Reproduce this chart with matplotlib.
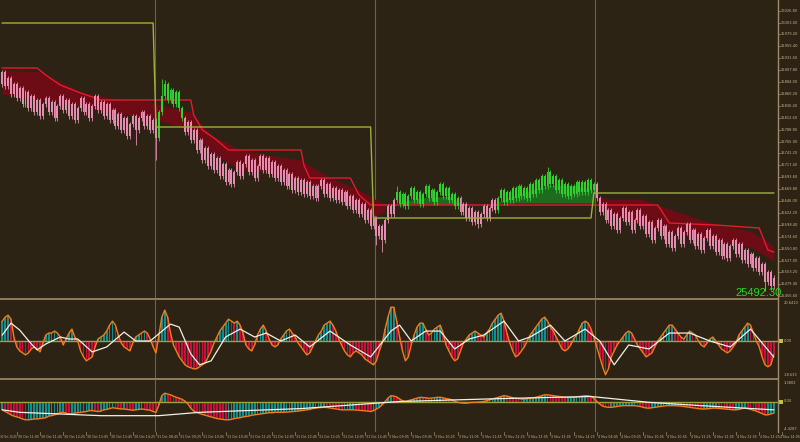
import numpy as np
import matplotlib
matplotlib.use("Agg")
import matplotlib.pyplot as plt
from matplotlib.lines import Line2D
from matplotlib.patches import Rectangle

# ---------------- data ----------------
session_days = ["30 Oct", "31 Oct", "3 Nov", "4 Nov"]
session_bars = [53, 76, 76, 62]
session_first_time = ["10:40", "08:45", "08:45", "08:45"]
bar_minutes = 5
last_price_text = "25492.30"

first_open = 25880.0
closes = [
    # 30 Oct
    25904, 25876, 25892, 25860, 25880, 25852, 25872, 25840, 25864, 25832,
    25856, 25824, 25848, 25816, 25840, 25852, 25824, 25844, 25812, 25836,
    25856, 25828, 25848, 25816, 25840, 25808, 25832, 25852, 25824, 25840,
    25812, 25836, 25856, 25828, 25844, 25816, 25840, 25808, 25828, 25796,
    25820, 25788, 25812, 25776, 25800, 25816, 25788, 25812, 25824, 25796,
    25816, 25788, 25808,
    # 31 Oct
    25772, 25824, 25856, 25880, 25848, 25868, 25840, 25864, 25832, 25812,
    25784, 25804, 25768, 25788, 25748, 25768, 25728, 25752, 25716, 25740,
    25708, 25732, 25696, 25720, 25684, 25708, 25680, 25704, 25724, 25696,
    25720, 25736, 25704, 25728, 25692, 25716, 25736, 25708, 25732, 25700,
    25724, 25692, 25716, 25684, 25708, 25676, 25700, 25668, 25692, 25664,
    25688, 25660, 25684, 25656, 25676, 25652, 25676, 25688, 25660, 25680,
    25652, 25672, 25648, 25668, 25644, 25664, 25636, 25656, 25628, 25648,
    25620, 25640, 25608, 25628, 25596, 25612,
    # 3 Nov
    25576, 25596, 25568, 25608, 25636, 25620, 25648, 25664, 25640, 25660,
    25636, 25656, 25672, 25648, 25664, 25640, 25660, 25676, 25652, 25668,
    25644, 25664, 25680, 25656, 25672, 25648, 25660, 25636, 25652, 25624,
    25640, 25612, 25632, 25604, 25624, 25600, 25620, 25636, 25612, 25632,
    25648, 25628, 25652, 25668, 25644, 25664, 25648, 25672, 25652, 25676,
    25656, 25672, 25652, 25680, 25660, 25688, 25668, 25696, 25676, 25704,
    25680, 25696, 25668, 25688, 25660, 25680, 25656, 25676, 25660, 25684,
    25664, 25684, 25664, 25688, 25668, 25680,
    # 4 Nov
    25652, 25624, 25640, 25608, 25628, 25596, 25620, 25588, 25612, 25632,
    25604, 25624, 25588, 25608, 25628, 25596, 25616, 25580, 25604, 25568,
    25592, 25608, 25576, 25596, 25560, 25584, 25552, 25576, 25592, 25560,
    25584, 25600, 25568, 25588, 25556, 25580, 25548, 25572, 25588, 25556,
    25576, 25544, 25568, 25536, 25560, 25532, 25556, 25568, 25540, 25560,
    25528, 25548, 25520, 25540, 25512, 25532, 25504, 25520, 25484, 25504,
    25476, 25492.3,
]
spike_low_bars = [46, 53, 129, 131, 164, 263, 265]
spike_low_vals = [25758, 25728, 25558, 25544, 25592, 25466, 25468]
spike_high_bars = [55, 56, 136, 188]
spike_high_vals = [25890, 25888, 25676, 25714]
green_ranges = [(54, 62), (136, 157), (171, 204)]

# red stop line
red_bars = [0, 12, 15, 20, 27, 34, 65, 66, 69, 73, 78, 103, 104, 106, 120, 123, 127,
            226, 230, 246, 261, 264, 266]
red_vals = [25912, 25912, 25898, 25878, 25862, 25848, 25848, 25818, 25788, 25772, 25748,
            25748, 25718, 25692, 25692, 25658, 25638, 25638, 25602, 25598, 25592, 25548, 25544]

# red cloud segments
cloud1_bars = [0, 13, 27, 41, 51, 58, 65, 72, 82, 92, 103, 113, 123, 129, 132]
cloud1_top = [25908, 25904, 25864, 25848, 25844, 25832, 25824, 25778, 25748, 25738,
              25728, 25692, 25668, 25648, 25638]
cloud1_bot = [25860, 25848, 25836, 25820, 25812, 25800, 25788, 25744, 25708, 25704,
              25688, 25664, 25634, 25616, 25628]
cloud2_bars = [205, 209, 220, 230, 241, 248, 258, 266]
cloud2_top = [25656, 25650, 25650, 25630, 25608, 25596, 25586, 25556]
cloud2_bot = [25648, 25620, 25600, 25584, 25572, 25564, 25554, 25526]
# green cloud segments
gcloud1_bars = [137, 144, 154, 158]
gcloud1_top = [25644, 25652, 25656, 25642]
gcloud1_bot = [25640, 25640, 25640, 25640]
gcloud2_bars = [171, 178, 188, 198, 204]
gcloud2_top = [25644, 25660, 25678, 25676, 25668]
gcloud2_bot = [25642, 25642, 25642, 25642, 25642]

# step level line
step_levels = [26002, 25794, 25612, 25662]
step_lengths = [53, 75, 76, 63]

# oscillator 1 (histogram + signal)
osc1 = [
    10, 12, 13, 11, 2, -3, -5, -6, -7, -6,
    -4, -3, -4, -5.5, -1, 3, 4, 4, 5, 4,
    2, -2, 1, 4, 6, 2, 0, -5, -8, -10,
    -9, -8, -3, 1, 2, 3, 5, 8, 10, 8,
    3, -1, -3, -4, -5, -1, 2, 3, 4, 5,
    4, 1, -3, -6, 3, 12, 15.5, 12, 4, -2,
    -5, -8, -10, -12, -13, -13.5, -14, -14, -13, -12,
    -11, -8, -5, -1, 2, 5, 7, 9, 11, 10,
    9, 10, 8, 4, -2, -4, -5, -2, 3, 6,
    8, 5, 1, -2, -3, -2, 1, 3, 5, 6,
    4, 2, -1, -3, -5, -7, -6, -3, 0, 3,
    5, 8, 9, 10, 8, 5, 1, -2, -5, -7,
    -8, -6, -5, -6, -7, -9, -10, -11, -12, -10,
    -5, -1, 6, 12, 17, 17, 10, 2, -5, -10,
    -8, -2, 3, 7, 9, 9, 6, 3, 4, 6,
    7, 8, 4, -2, -5, -8, -10, -9, -5, -1,
    1, 3, 4, 5, 4, 3, 2, 4, 6, 9,
    11, 13, 14, 10, 4, -1, -5, -8, -7, -5,
    -3, 0, 3, 5, 7, 9, 11, 12, 10, 7,
    5, 2, -1, -4, -5, -4, -2, 1, 3, 6,
    9, 10, 9, 6, 2, -3, -8, -13, -17, -14,
    -8, -5, -2, 0, 2, 4, 5, 4, 1, -2,
    -4, -6, -8, -7, -6, -3, 0, 2, 4, 6,
    8, 8, 6, 4, 2, 1, 3, 5, 4, 3,
    0, -2, -3, -1, 1, 2, 0, -2, -4, -5,
    -6, -5, -3, -1, 3, 5, 7, 9, 8, 4,
    0, -3, -8, -12, -13, -12, -7,
]
sig1_bars = [0, 3, 6, 10, 12, 15, 20, 23, 26, 31, 36, 42, 46, 51, 58, 61, 65, 68, 72, 77,
             82, 87, 91, 96, 101, 106, 113, 120, 127, 134, 137, 141, 146, 151, 156, 161,
             166, 173, 178, 182, 189, 194, 201, 206, 211, 216, 223, 230, 237, 244, 251,
             258, 266]
sig1_vals = [3, 9, 5.5, -1.5, -4.5, -1.5, 2, 1, 1, -5.5, -3, 4.5, 0, 0, 8.5, 7, -6.5, -12,
             -10, 2, 6, 2, 4, 0, 3, -3, 5, -2, -8, 5, 8, 0, 5, 5, -4, 1, 3, 10, 0, 2, 8, 0,
             6, 0, -12, -2, -4, 4, 4, 0, -3, 6, -8]
osc1_labels = ["20.6410", "0.00", "-18.633"]
osc1_range = (-18.633, 20.641)

# oscillator 2
osc2 = [
    -1.0, -1.2, -1.4, -1.6, -1.75, -1.85, -1.95, -2.1, -2.2, -2.2,
    -2.15, -2.1, -2.1, -2.05, -2.0, -1.95, -1.75, -1.7, -1.6, -1.5,
    -1.35, -1.3, -1.4, -1.5, -1.45, -1.4, -1.35, -1.3, -1.25, -1.2,
    -1.1, -1.1, -1.15, -1.2, -1.15, -1.0, -0.95, -0.85, -0.75, -0.8,
    -0.85, -0.9, -0.9, -0.95, -1.0, -1.05, -1.0, -0.95, -0.9, -0.95,
    -1.0, -1.05, -1.2, -1.3, -0.4, 0.7, 1.0, 0.9, 0.8, 0.65,
    0.5, 0.4, 0.25, 0.05, -0.3, -0.8, -1.15, -1.3, -1.45, -1.55,
    -1.65, -1.75, -1.85, -1.95, -2.05, -2.1, -2.15, -2.2, -2.2, -2.15,
    -2.05, -2.0, -1.95, -1.85, -1.8, -1.75, -1.65, -1.6, -1.55, -1.5,
    -1.45, -1.4, -1.35, -1.35, -1.3, -1.3, -1.3, -1.3, -1.28, -1.25,
    -1.22, -1.2, -1.15, -1.1, -1.05, -1.0, -0.95, -0.85, -0.8, -0.75,
    -0.72, -0.7, -0.72, -0.78, -0.85, -0.9, -0.95, -1.0, -1.0, -1.0,
    -1.0, -1.0, -1.02, -1.05, -1.08, -1.1, -1.15, -1.2, -1.1, -0.9,
    -0.7, -0.4, 0.0, 0.4, 0.7, 0.65, 0.55, 0.3, 0.1, 0.0,
    0.1, 0.2, 0.3, 0.4, 0.5, 0.48, 0.45, 0.4, 0.4, 0.45,
    0.5, 0.5, 0.45, 0.35, 0.3, 0.2, 0.05, -0.1, -0.15, -0.2,
    -0.2, -0.15, -0.1, -0.1, -0.08, -0.05, 0.0, 0.1, 0.2, 0.3,
    0.4, 0.5, 0.6, 0.7, 0.65, 0.55, 0.45, 0.4, 0.35, 0.3,
    0.3, 0.35, 0.4, 0.45, 0.5, 0.6, 0.7, 0.8, 0.8, 0.75,
    0.7, 0.65, 0.6, 0.55, 0.5, 0.5, 0.5, 0.5, 0.55, 0.6,
    0.65, 0.7, 0.68, 0.6, 0.4, 0.0, -0.3, -0.55, -0.65, -0.7,
    -0.7, -0.65, -0.6, -0.55, -0.5, -0.5, -0.5, -0.5, -0.5, -0.55,
    -0.6, -0.7, -0.78, -0.8, -0.75, -0.7, -0.65, -0.6, -0.55, -0.5,
    -0.5, -0.5, -0.5, -0.52, -0.55, -0.6, -0.65, -0.7, -0.75, -0.8,
    -0.85, -0.9, -0.9, -0.88, -0.85, -0.8, -0.8, -0.82, -0.85, -0.9,
    -0.92, -0.95, -1.0, -1.0, -0.95, -0.85, -0.8, -0.85, -0.95, -1.05,
    -1.15, -1.3, -1.45, -1.6, -1.6, -1.5, -1.4,
]
sig2_bars = [0, 6, 34, 45, 54, 68, 103, 137, 172, 203, 223, 241, 266]
sig2_vals = [-1.0, -1.3, -1.7, -1.7, -1.7, -1.3, -0.85, 0.0, 0.35, 0.6, -0.1, -0.5, -1.0]
osc2_labels = ["1.3802", "0.00", "-4.4287"]
osc2_range = (-3.66, 2.58)

main_range = (25452, 26048)

# ---------------- style ----------------
BG = "#2c2315"
TAN = "#a08c6a"
LBL = "#c8b48e"
PINK = "#e58db0"
GREEN = "#30d030"
RED = "#e8182e"
CLOUD_RED = "#6e0c16"
CLOUD_GREEN = "#1e6a1e"
STEP = "#9db23c"
TEAL = "#178c8c"
CRIMSON = "#c8103c"
ORANGE = "#f07e18"
WHITE = "#f2f0e6"
ZERO = "#9aa43a"
SESS = "#6a6252"

W, H = 800, 442
fig = plt.figure(figsize=(W / 100, H / 100), dpi=100, facecolor=BG)
AXR = 778


def add_ax(top, bottom):
    ax = fig.add_axes([0, 1 - bottom / H, AXR / W, (bottom - top) / H])
    ax.set_facecolor(BG)
    for s in ax.spines.values():
        s.set_visible(False)
    ax.set_xticks([])
    ax.set_yticks([])
    return ax


ax = add_ax(0, 298)
ax1 = add_ax(300, 378)
ax2 = add_ax(380, 432)

n = len(closes)
assert n == sum(session_bars) == len(osc1) == len(osc2) == sum(step_lengths), (n, len(osc1), len(osc2))
xb = np.arange(n)
XL = (-0.793, 267.48)
for a in (ax, ax1, ax2):
    a.set_xlim(*XL)

# ---- main panel ----
c = np.array(closes, float)
o = np.r_[first_open, c[:-1]]
WICK = 5.0
hi = np.maximum(o, c) + WICK
lo = np.minimum(o, c) - WICK
for b, v in zip(spike_low_bars, spike_low_vals):
    lo[b] = v
for b, v in zip(spike_high_bars, spike_high_vals):
    hi[b] = v
up = np.zeros(n, bool)
for a_, b_ in green_ranges:
    up[a_:b_ + 1] = True
cols = np.where(up, GREEN, PINK)

ax.fill_between(cloud1_bars, cloud1_bot, cloud1_top, color=CLOUD_RED, lw=0, zorder=1)
ax.fill_between(cloud2_bars, cloud2_bot, cloud2_top, color=CLOUD_RED, lw=0, zorder=1)
ax.fill_between(gcloud1_bars, gcloud1_bot, gcloud1_top, color=CLOUD_GREEN, lw=0, zorder=1)
ax.fill_between(gcloud2_bars, gcloud2_bot, gcloud2_top, color=CLOUD_GREEN, lw=0, zorder=1)
ax.plot(red_bars, red_vals, color=RED, lw=1.0, zorder=2)

ax.vlines(xb, lo, hi, colors=cols, lw=0.6, zorder=3)
body = np.maximum(np.abs(c - o), 1.2)
ax.bar(xb, body, bottom=np.minimum(o, c), width=0.66, color=cols, lw=0, zorder=4)

step = np.repeat(step_levels, step_lengths)
ax.plot(xb, step, color=STEP, lw=1.0, zorder=5)
ax.set_ylim(*main_range)

# ---- oscillator 1 ----
v1 = np.array(osc1, float)
prev1 = np.r_[v1[0], v1[:-1]]
col1 = np.where((v1 > 0) & (v1 >= prev1), TEAL, CRIMSON)
ax1.bar(xb, v1, width=0.62, color=col1, lw=0, zorder=2)
ax1.axhline(0, color=ZERO, lw=1.0, zorder=3)
ax1.plot(xb, v1, color=ORANGE, lw=1.0, zorder=4)
ax1.plot(sig1_bars, sig1_vals, color=WHITE, lw=0.9, zorder=5)
ax1.set_ylim(*osc1_range)

# ---- oscillator 2 ----
v2 = np.array(osc2, float)
prev2 = np.r_[v2[0], v2[:-1]]
col2 = np.where(v2 >= prev2, TEAL, CRIMSON)
ax2.bar(xb, v2, width=0.62, color=col2, lw=0, zorder=2)
ax2.axhline(0, color=ZERO, lw=1.0, zorder=3)
ax2.plot(xb, v2, color=ORANGE, lw=1.0, zorder=4)
ax2.plot(sig2_bars, sig2_vals, color=WHITE, lw=0.9, zorder=5)
ax2.set_ylim(*osc2_range)

# ---- session separators ----
bounds = np.cumsum(session_bars)[:-1] - 0.5
for a in (ax, ax1, ax2):
    for bx in bounds:
        a.axvline(bx, color=SESS, lw=0.8, zorder=0.5)

# ---- frame lines ----
fx = AXR / W
fig.add_artist(Line2D([fx, fx], [1 - 432 / H, 1], color=TAN, lw=1.0))
for yp in (299, 379):
    fig.add_artist(Line2D([0, fx], [1 - yp / H, 1 - yp / H], color=TAN, lw=1.2))

# ---- price labels on right ----
ticks = np.arange(main_range[0] + 3.6, main_range[1] + 1, 23.8)
for t in ticks:
    yp = (main_range[1] - t) / (main_range[1] - main_range[0]) * 298
    if yp < 3:
        continue
    fig.text(781 / W, 1 - yp / H, f"{t:.2f}", fontsize=2.6, color=LBL, va="center", ha="left")
    fig.add_artist(Line2D([fx, fx + 2 / W], [1 - yp / H] * 2, color=TAN, lw=0.5))


def panel_labels(labels, top, zero_px, bottom):
    ys = [top + 2.5, zero_px, bottom - 2.5]
    for s, yp in zip(labels, ys):
        fig.text(784 / W, 1 - yp / H, s, fontsize=2.6, color=LBL, va="center", ha="left")
    fig.add_artist(Rectangle((779 / W, 1 - (zero_px + 2) / H), 4 / W, 4 / H,
                             color="#c8c040", lw=0))


z1 = 300 + osc1_range[1] / (osc1_range[1] - osc1_range[0]) * 78
z2 = 380 + osc2_range[1] / (osc2_range[1] - osc2_range[0]) * 52
panel_labels(osc1_labels, 300, z1, 378)
panel_labels(osc2_labels, 380, z2, 432)

# ---- current price ----
fig.text(782 / W, 1 - 293 / H, last_price_text, fontsize=8, color="#22dd22",
         family="Liberation Sans", ha="right", va="center")

# ---- time axis ----
starts = np.r_[0, np.cumsum(session_bars)[:-1]]


def bar_label(b):
    d = max(int(np.searchsorted(starts, b, side="right")) - 1, 0)
    h, m = map(int, session_first_time[d].split(":"))
    t = h * 60 + m + (b - starts[d]) * bar_minutes
    return f"{session_days[d]} {t // 60:02d}:{t % 60:02d}"


px_per_bar = AXR / (XL[1] - XL[0])
first_tick = starts[1] % 8 - 8
for b in range(first_tick, n + 8, 8):
    xp = (b - XL[0]) * px_per_bar
    if xp > W:
        break
    tx, ha, fs = xp + 1, "left", 2.3
    if tx < 0.5:
        tx, fs = 0.3, 1.9
    if xp + 19 > W:
        tx, ha = W - 0.5, "right"
    fig.text(tx / W, 1 - 437 / H, bar_label(b), fontsize=fs, color=LBL,
             ha=ha, va="center")
    if xp >= 0:
        fig.add_artist(Line2D([xp / W] * 2, [1 - 432 / H, 1 - 435 / H], color=TAN, lw=0.5))

fig.savefig("out.png", dpi=100, facecolor=BG)
